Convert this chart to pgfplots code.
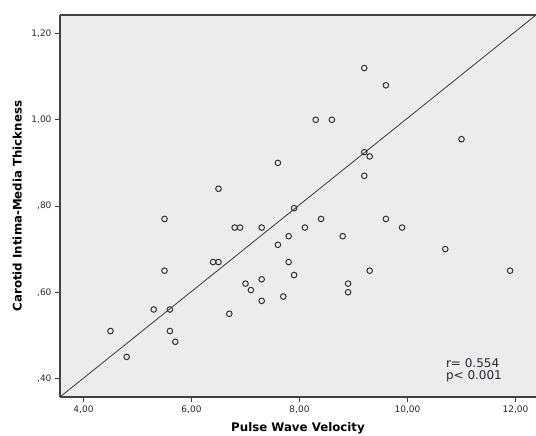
\documentclass[border=0pt]{standalone}
\usepackage{fontspec}
\setmainfont{DejaVu Sans}
\usepackage{pgfplots}
\pgfplotsset{compat=1.18}
\definecolor{bgc}{RGB}{235,236,235}
\definecolor{frm}{RGB}{65,65,65}
\definecolor{mk}{RGB}{50,50,50}
\definecolor{tk}{RGB}{40,40,50}

\begin{document}
\begin{tikzpicture}
\begin{axis}[
  width=476pt, height=382pt, scale only axis,
  xmin=3.565, xmax=12.38, ymin=0.357, ymax=1.243,
  axis lines=left, axis line style={-, draw=frm, line width=1.1pt},
  axis background/.style={fill=bgc},
  xtick={4,6,8,10,12}, xticklabels={{4,00},{6,00},{8,00},{10,00},{12,00}},
  ytick={0.4,0.6,0.8,1.0,1.2}, yticklabels={{,40},{,60},{,80},{1,00},{1,20}},
  tick align=outside, major tick length=5pt,
  tick style={draw=frm, line width=0.9pt},
  ticklabel style={font=\fontsize{9}{10}\selectfont, text=tk},
  xlabel={Pulse Wave Velocity}, ylabel={Carotid Intima-Media Thickness},
  label style={font=\fontsize{11.8}{13}\selectfont\bfseries},
  xlabel style={at={(axis description cs:0.5,-0.081)}, anchor=center},
  ylabel style={at={(axis description cs:-0.09,0.5)}, anchor=center},
  clip=false,
]
% fit line
\addplot[draw=frm, line width=0.85pt] coordinates {(3.565,0.357) (12.38,1.243)};
% subjects
\addplot[only marks, mark=o, mark size=2.8pt, mark options={draw=mk, line width=1pt}]
  coordinates {
  (4.5,0.51) (4.8,0.45) (5.3,0.56) (5.5,0.77) (5.5,0.65) (5.6,0.56)
  (5.6,0.51) (5.7,0.485) (6.4,0.67) (6.5,0.67) (6.5,0.84) (6.7,0.55)
  (6.8,0.75) (6.9,0.75) (7.0,0.62) (7.1,0.605) (7.3,0.75) (7.3,0.63)
  (7.3,0.58) (7.6,0.90) (7.6,0.71) (7.7,0.59) (7.8,0.73) (7.8,0.67)
  (7.9,0.795) (7.9,0.64) (8.1,0.75) (8.3,1.00) (8.4,0.77) (8.6,1.00)
  (8.8,0.73) (8.9,0.62) (8.9,0.60) (9.2,1.12) (9.2,0.925) (9.3,0.915)
  (9.2,0.87) (9.3,0.65) (9.6,1.08) (9.6,0.77) (9.9,0.75) (10.7,0.70)
  (11.0,0.955) (11.9,0.65)};
\draw[frm, line width=1.1pt] (rel axis cs:0,1) -- (rel axis cs:1,1);
\node[anchor=west, align=left, inner sep=0pt, text=tk,
  font=\fontsize{12}{12.7}\selectfont] at (axis cs:10.71,0.4186) {r= 0.554\\p< 0.001};
\coordinate (bl) at (rel axis cs:0,0);
\coordinate (tr) at (rel axis cs:1,1);
\end{axis}
\pgfresetboundingbox
\path[use as bounding box] ([xshift=-60pt,yshift=-38pt]bl) rectangle ([yshift=15pt]tr);
\end{tikzpicture}
\end{document}
